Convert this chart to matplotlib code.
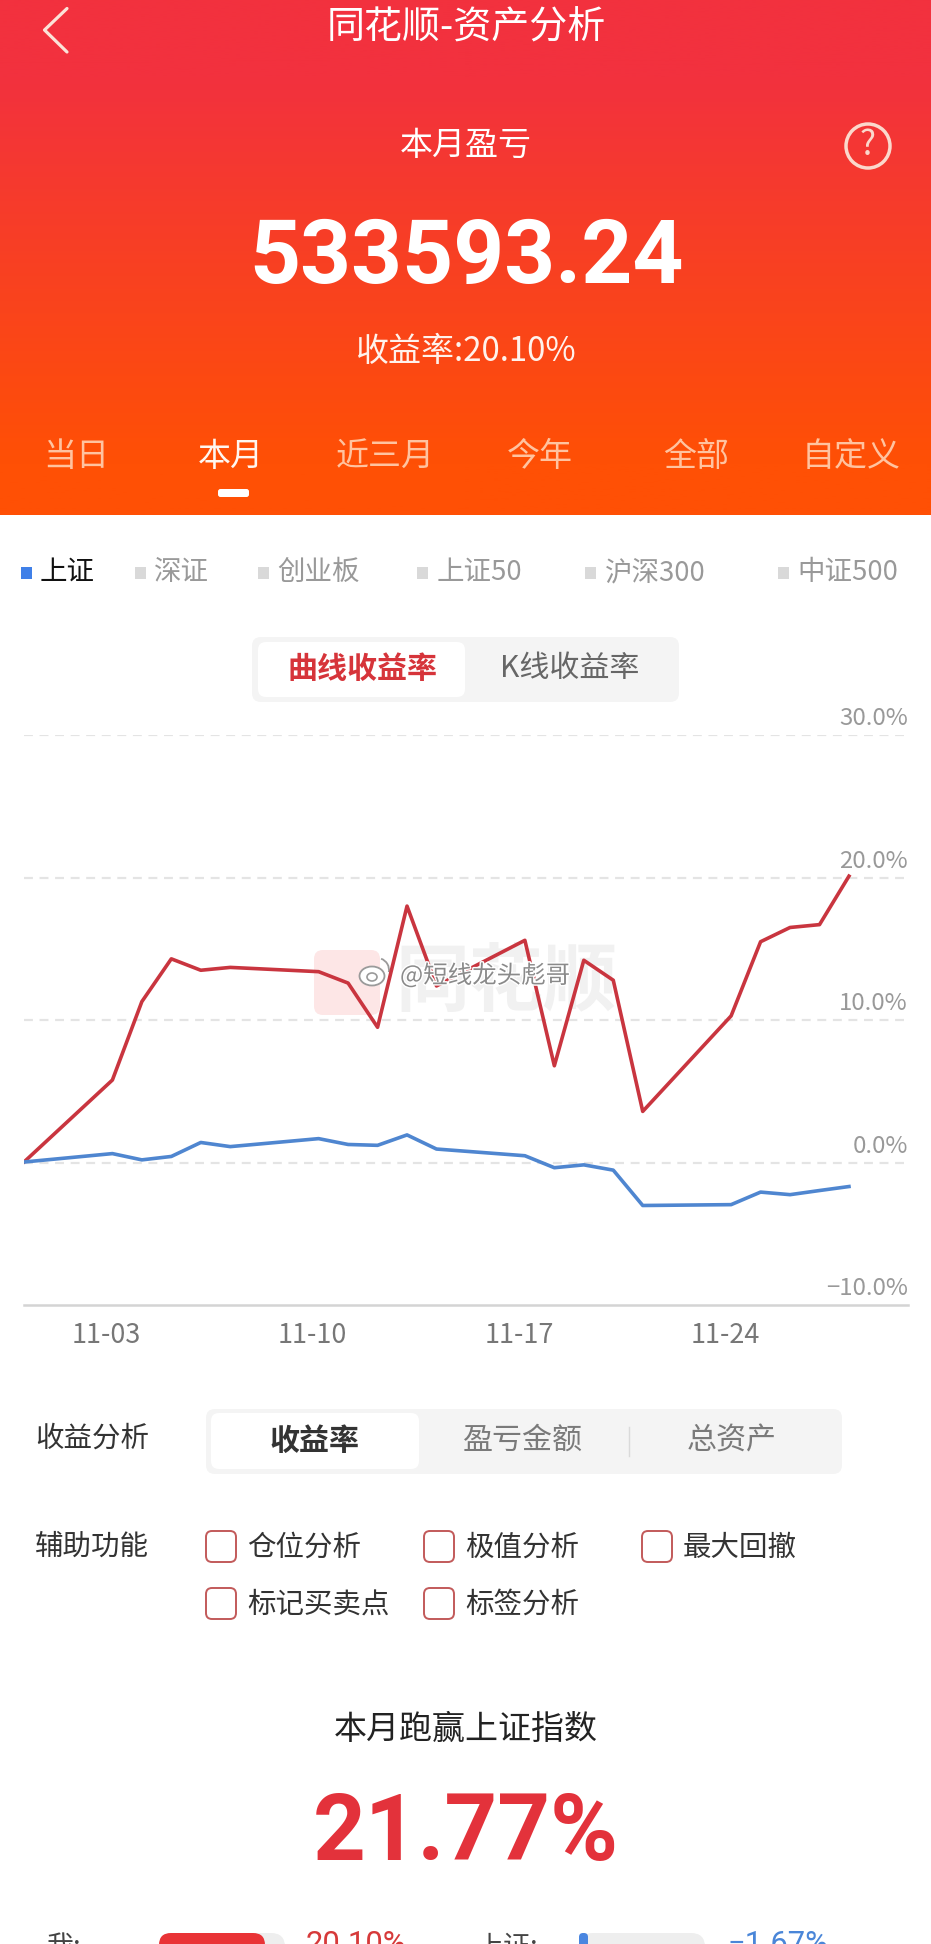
import numpy as np
import matplotlib
matplotlib.use("Agg")
import matplotlib.pyplot as plt
import matplotlib.patheffects as pe
from matplotlib.patches import FancyBboxPatch, Rectangle, Circle, Ellipse, Arc
from matplotlib.transforms import ScaledTranslation

plt.rcParams['font.family'] = ['Noto Sans CJK SC', 'DejaVu Sans']

# chart data (day 0 is 10-31, weekends have no point)
days = [0, 3, 4, 5, 6, 7, 10, 11, 12, 13, 14, 17, 18, 19, 20, 21, 24, 25, 26, 27, 28]
my_return = [0.05, 5.8, 11.3, 14.3, 13.5, 13.7, 13.4, 12.6, 9.5, 18.0, 12.4,
             15.6, 6.8, 14.2, 12.8, 3.6, 10.3, 15.5, 16.5, 16.7, 20.1]
sh_return = [0.05, 0.64, 0.2, 0.44, 1.42, 1.13, 1.69, 1.28, 1.22, 1.95, 0.96,
             0.49, -0.35, -0.15, -0.52, -3.0, -2.94, -2.06, -2.24, -1.95, -1.67]
x_ticks = [3, 10, 17, 24]
x_labels = ['11-03', '11-10', '11-17', '11-24']
y_ticks = [-10, 0, 10, 20, 30]

tabs = ['当日', '本月', '近三月', '今年', '全部', '自定义']
indexes = ['上证', '深证', '创业板', '上证50', '沪深300', '中证500']

W, H = 931, 1944
RED = '#C9353F'
BLUE = '#4F86D0'


def fs(px):
    # pixel height of the em to points at dpi 100
    return px * 0.72


def rbox(x0, y0, x1, y1, r, **kw):
    p = FancyBboxPatch((x0 + r, y0 + r), x1 - x0 - 2 * r, y1 - y0 - 2 * r,
                       boxstyle="round,pad=%f,rounding_size=%f" % (r, r), **kw)
    ui.add_patch(p)


def label(x, y, s, px, color='#333333', **kw):
    kw.setdefault('ha', 'center')
    ui.text(x, y + 2.5, s, fontsize=fs(px), color=color, va='center', **kw)


fig = plt.figure(figsize=(W / 100, H / 100), dpi=100, facecolor='white')
ui = fig.add_axes([0, 0, 1, 1])
ui.set_xlim(0, W)
ui.set_ylim(H, 0)
ui.axis('off')

# red header
top = np.array([242, 49, 62]) / 255
bottom = np.array([255, 80, 5]) / 255
t = np.clip((np.linspace(0, 1, 256) - 0.15) / 0.75, 0, 1)[:, None, None]
ui.imshow(top[None, None, :] * (1 - t) + bottom[None, None, :] * t,
          extent=(0, W, 515, 0), aspect='auto', zorder=0)
ui.set_xlim(0, W)
ui.set_ylim(H, 0)

ui.plot([67, 44.5, 67], [8.5, 30, 52], color='#FBE3D8', lw=2.3, solid_capstyle='round')
label(466, 25, '同花顺-资产分析', 38, 'white')
label(466, 143, '本月盈亏', 33, 'white')
ui.add_patch(Circle((868, 146), 22, fc='none', ec='#FBD8CC', lw=2.5))
label(868, 143, '?', 34, '#FBD8CC')
label(467, 256, '533593.24', 89, 'white', family='Roboto', fontweight='bold')
label(466, 349, '收益率:20.10%', 33, '#FFF2EC')

tab_x = [76, 231, 385, 540, 696, 851]
for i, (x, s) in enumerate(zip(tab_x, tabs)):
    label(x, 454, s, 33, '#FFF6F0' if i == 1 else '#FFC3A0')
rbox(218, 489, 249, 497, 2.5, fc='white', ec='none')

# index selector row
square_x = [21, 135, 258, 417, 585, 778]
text_x = [40, 154, 277, 437, 605, 797]
for i, s in enumerate(indexes):
    ui.add_patch(Rectangle((square_x[i], 567), 11, 12, fc='#4080E8' if i == 0 else '#D9D9D9', ec='none'))
    label(text_x[i], 570, s, 27.5, '#111111' if i == 0 else '#999999', ha='left')

# curve / K-line switch
rbox(252, 637, 679, 702, 9, fc='#F4F4F4', ec='none')
rbox(258, 642, 465, 697, 8, fc='white', ec='none')
label(362, 666, '曲线收益率', 30, '#D6343A', fontweight='bold')
label(570, 666, 'K线收益率', 30, '#666666')

# watermark logo under the chart
rbox(314, 950, 380, 1015, 9, fc='#FDE6E6', ec='none')
label(506, 980, '同花顺', 74, '#F1F1F1', fontweight='bold')

# main chart
ax = fig.add_axes([24 / W, 1 - 1305.3 / H, 883.9 / W, 570.3 / H], facecolor='none')
ax.set_xlim(0, 30)
ax.set_ylim(-10, 30)
for v in y_ticks[1:]:
    ax.axhline(v, color='#E4E4E4', lw=1.6, dashes=(4, 3), zorder=1)
ax.plot(days, my_return, color=RED, lw=2.6, zorder=3)
ax.plot(days, sh_return, color=BLUE, lw=2.6, zorder=3)
for name in ['top', 'left', 'right']:
    ax.spines[name].set_visible(False)
ax.spines['bottom'].set_color('#D4D4D4')
ax.spines['bottom'].set_linewidth(1.8)
ax.set_xticks(x_ticks, x_labels)
ax.tick_params(axis='x', length=0, pad=12, labelsize=fs(27), labelcolor='#777777')
shift = ScaledTranslation(-6 / 100, 0, fig.dpi_scale_trans)
for tl in ax.get_xticklabels():
    tl.set_transform(tl.get_transform() + shift)
ax.yaxis.tick_right()
ax.set_yticks(y_ticks, [('%.1f%%' % v).replace('-', '\u2212') for v in y_ticks])
ax.tick_params(axis='y', length=0, pad=0, labelsize=fs(24), labelcolor='#999999')
up = ScaledTranslation(0, 5 / 100, fig.dpi_scale_trans)
for tl in ax.get_yticklabels():
    tl.set_horizontalalignment('right')
    tl.set_verticalalignment('bottom')
    tl.set_transform(tl.get_transform() + up)

# weibo mark sits above the lines
wm = fig.text(400 / W, 1 - 976 / H, '@短线龙头彪哥', fontsize=fs(24.5), color='#8A8A8A',
              va='center', ha='left', zorder=5)
wm.set_path_effects([pe.withStroke(linewidth=2, foreground='white')])
ui.add_patch(Ellipse((372, 976), 25, 19, fc='white', ec='#9A9A9A', lw=1.3, zorder=4))
ui.add_patch(Ellipse((372, 977), 10, 8, fc='none', ec='#9A9A9A', lw=1.2, zorder=4))
ui.add_patch(Arc((377, 970), 24, 24, theta1=-70, theta2=10, ec='#9A9A9A', lw=1.3, zorder=4))

# analysis switch
label(92, 1436, '收益分析', 28.5, '#333333')
rbox(206, 1409, 842, 1474, 9, fc='#F4F4F4', ec='none')
rbox(211, 1413, 419, 1469, 8, fc='white', ec='none')
label(315, 1438, '收益率', 30, '#333333', fontweight='bold')
label(523, 1438, '盈亏金额', 30, '#7A7A7A')
ui.plot([629, 629], [1427, 1456], color='#DADADA', lw=1)
label(732, 1438, '总资产', 30, '#7A7A7A')

# helper checkboxes
label(92, 1544, '辅助功能', 28.5, '#333333')
boxes = [(206, 1531, '仓位分析'), (424, 1531, '极值分析'), (642, 1531, '最大回撤'),
         (206, 1588, '标记买卖点'), (424, 1588, '标签分析')]
for x, y, s in boxes:
    rbox(x, y, x + 30, y + 31, 6, fc='white', ec='#C25A5A', lw=1.4)
    label(x + 41, y + 14, s, 28.5, '#333333', ha='left')

# bottom summary
label(466, 1727, '本月跑赢上证指数', 33, '#222222')
label(466, 1832, '21.77%', 92, '#E3323B', family='Roboto', fontweight='bold')

label(47, 1945, '我:', 27, '#444444', ha='left')
rbox(159, 1933, 285, 1975, 14, fc='#EEEEEE', ec='none')
rbox(159, 1933, 265, 1975, 12, fc='#E93336', ec='none')
label(306, 1942, '20.10%', 31, '#D63A3A', ha='left', family='Roboto')
label(477, 1945, '上证:', 27, '#444444', ha='left')
rbox(579, 1933, 705, 1975, 14, fc='#EEEEEE', ec='none')
rbox(579, 1933, 588, 1975, 4, fc='#4A86E0', ec='none')
label(727, 1942, '\u22121.67%', 31, '#4A86D8', ha='left', family='Roboto')

fig.savefig('out.png', dpi=100)
